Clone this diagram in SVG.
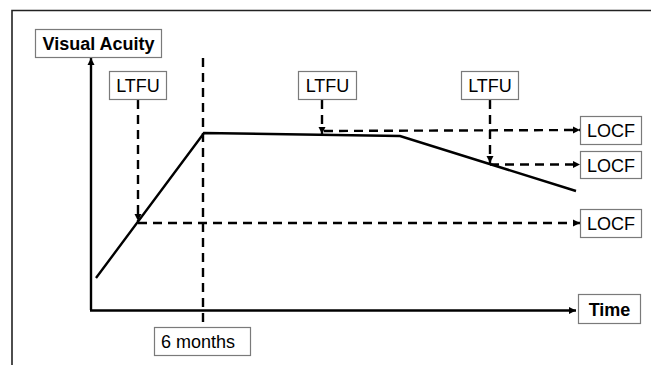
<svg xmlns="http://www.w3.org/2000/svg" width="651" height="365" viewBox="0 0 651 365">
<style>
.box{fill:#fff;stroke:#7a7a7a;stroke-width:1.2}
.t{font-family:"Liberation Sans",Arial,sans-serif;font-size:18px;fill:#000;text-anchor:middle}
.b{font-weight:bold}
.solid{fill:none;stroke:#000;stroke-width:2.4}
.dash{fill:none;stroke:#000;stroke-width:2.4;stroke-dasharray:9,6}
</style>
<defs>
<marker id="ah" viewBox="0 0 10 10" refX="10" refY="5" markerWidth="3" markerHeight="3" orient="auto" markerUnits="strokeWidth">
<path d="M0,0 L10,5 L0,10 Z" fill="#000"/>
</marker>
</defs>
<rect width="651" height="365" fill="#fff"/>
<path d="M12,365 L12,10.5 L651,10.5" fill="none" stroke="#222" stroke-width="1.6"/>
<g id="connectors">
<path class="solid" d="M91,310 L91,58" marker-end="url(#ah)"/>
<path class="solid" d="M90,310.5 L576,310.5" marker-end="url(#ah)"/>
<path class="solid" d="M96,278 L204,133 L400,136 L576,191"/>
<path class="dash" d="M203,58 L203,327"/>
<path class="dash" d="M138,100 L138,221" marker-end="url(#ah)"/>
<path class="dash" d="M138,223 L580,223" marker-end="url(#ah)"/>
<path class="dash" d="M322,100 L322,134" marker-end="url(#ah)"/>
<path class="dash" d="M324,131 L580,130" marker-end="url(#ah)"/>
<path class="dash" d="M490,100 L490,163" marker-end="url(#ah)"/>
<path class="dash" d="M490,164.5 L580,164.5" marker-end="url(#ah)"/>
</g>
<g id="visual-acuity"><rect class="box" x="35.5" y="29.5" width="126" height="28"/><text class="t b" x="98.5" y="50">Visual Acuity</text></g>
<g id="ltfu1"><rect class="box" x="109.5" y="71.5" width="57" height="28"/><text class="t" x="138" y="92">LTFU</text></g>
<g id="ltfu2"><rect class="box" x="298.5" y="71.5" width="58" height="28"/><text class="t" x="327.5" y="92">LTFU</text></g>
<g id="ltfu3"><rect class="box" x="461.5" y="71.5" width="57" height="28"/><text class="t" x="490" y="92">LTFU</text></g>
<g id="locf1"><rect class="box" x="580.5" y="116.5" width="61" height="28"/><text class="t" x="611" y="137">LOCF</text></g>
<g id="locf2"><rect class="box" x="580.5" y="151.5" width="61" height="27"/><text class="t" x="611" y="171.5">LOCF</text></g>
<g id="locf3"><rect class="box" x="580.5" y="209.5" width="61" height="28"/><text class="t" x="611" y="230">LOCF</text></g>
<g id="time"><rect class="box" x="578.5" y="294.5" width="62" height="29"/><text class="t b" x="609.5" y="315.5">Time</text></g>
<g id="six-months"><rect class="box" x="154.5" y="327.5" width="96" height="28"/><text class="t" x="198" y="348">6 months</text></g>
</svg>
